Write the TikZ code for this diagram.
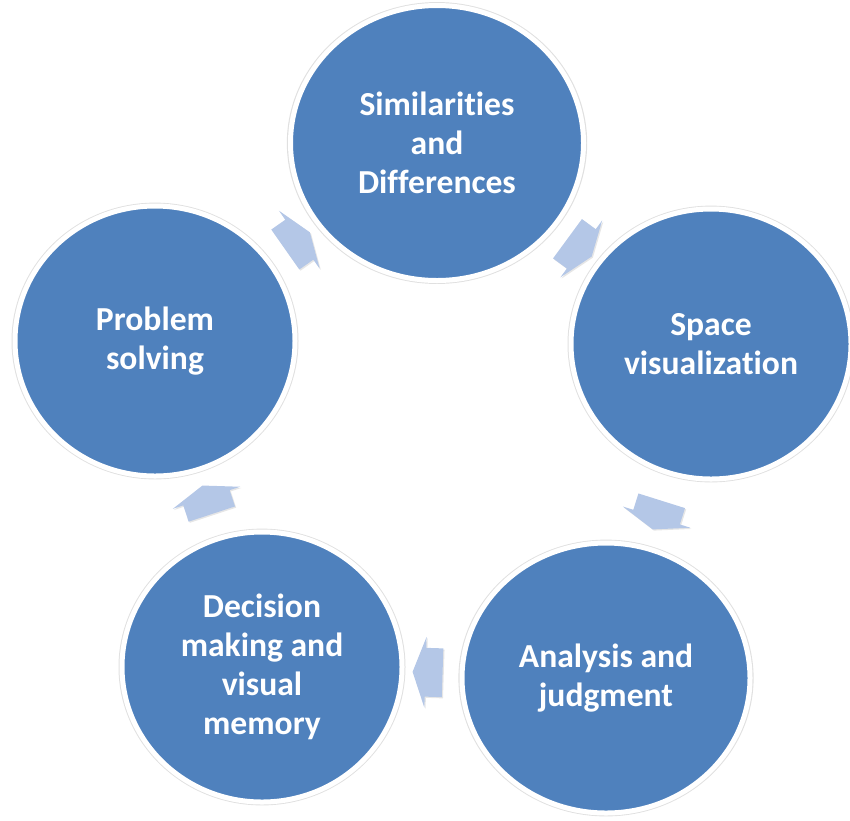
\documentclass[tikz,border=0pt]{standalone}
\usepackage{fontspec}
\setmainfont[Ligatures={NoCommon}]{Carlito}
\usetikzlibrary{shapes.geometric,shapes.arrows,shadows}
\definecolor{cycleblue}{RGB}{79,129,189}
\definecolor{arrowblue}{RGB}{180,199,231}
\tikzset{
  stage/.style={ellipse, draw=white, line width=2.5pt, fill=cycleblue,
    minimum width=140pt, minimum height=135pt, inner sep=0pt, align=center,
    text=white, font=\fontsize{16.8}{19.5}\selectfont\bfseries,
    general shadow={fill=black!30, shadow scale=1.025, opacity=0.4}},
  flow/.style={single arrow, fill=arrowblue, draw=none, minimum height=15pt,
    inner xsep=0pt, inner ysep=12pt, single arrow head extend=5.5pt,
    single arrow tip angle=140, sloped, allow upside down,
    drop shadow={shadow xshift=0.6pt, shadow yshift=-0.6pt, opacity=0.2}}
}
\begin{document}
\begin{tikzpicture}[x=0.5pt, y=-0.5pt]
\useasboundingbox (0,0) rectangle (850,820);
% stages of the cycle
\node[stage, minimum width=146.5pt, minimum height=137.5pt] (similar) at (437,143) {Similarities\\and\\Differences};
\node[stage] (space) at (711,344) {Space\\visualization};
\node[stage, minimum width=144pt] (analysis) at (606,678) {Analysis and\\judgment};
\node[stage] (decision) at (262,667) {Decision\\making and\\visual\\memory};
\node[stage] (problem) at (155,341) {Problem\\solving};
% arrows between the stages
\path (problem) -- node[flow] {} (similar);
\path (similar) -- node[flow] {} (space);
\path (space) -- node[flow] {} (analysis);
\path (analysis) -- node[flow] {} (decision);
\path (decision) -- node[flow] {} (problem);
\end{tikzpicture}
\end{document}
